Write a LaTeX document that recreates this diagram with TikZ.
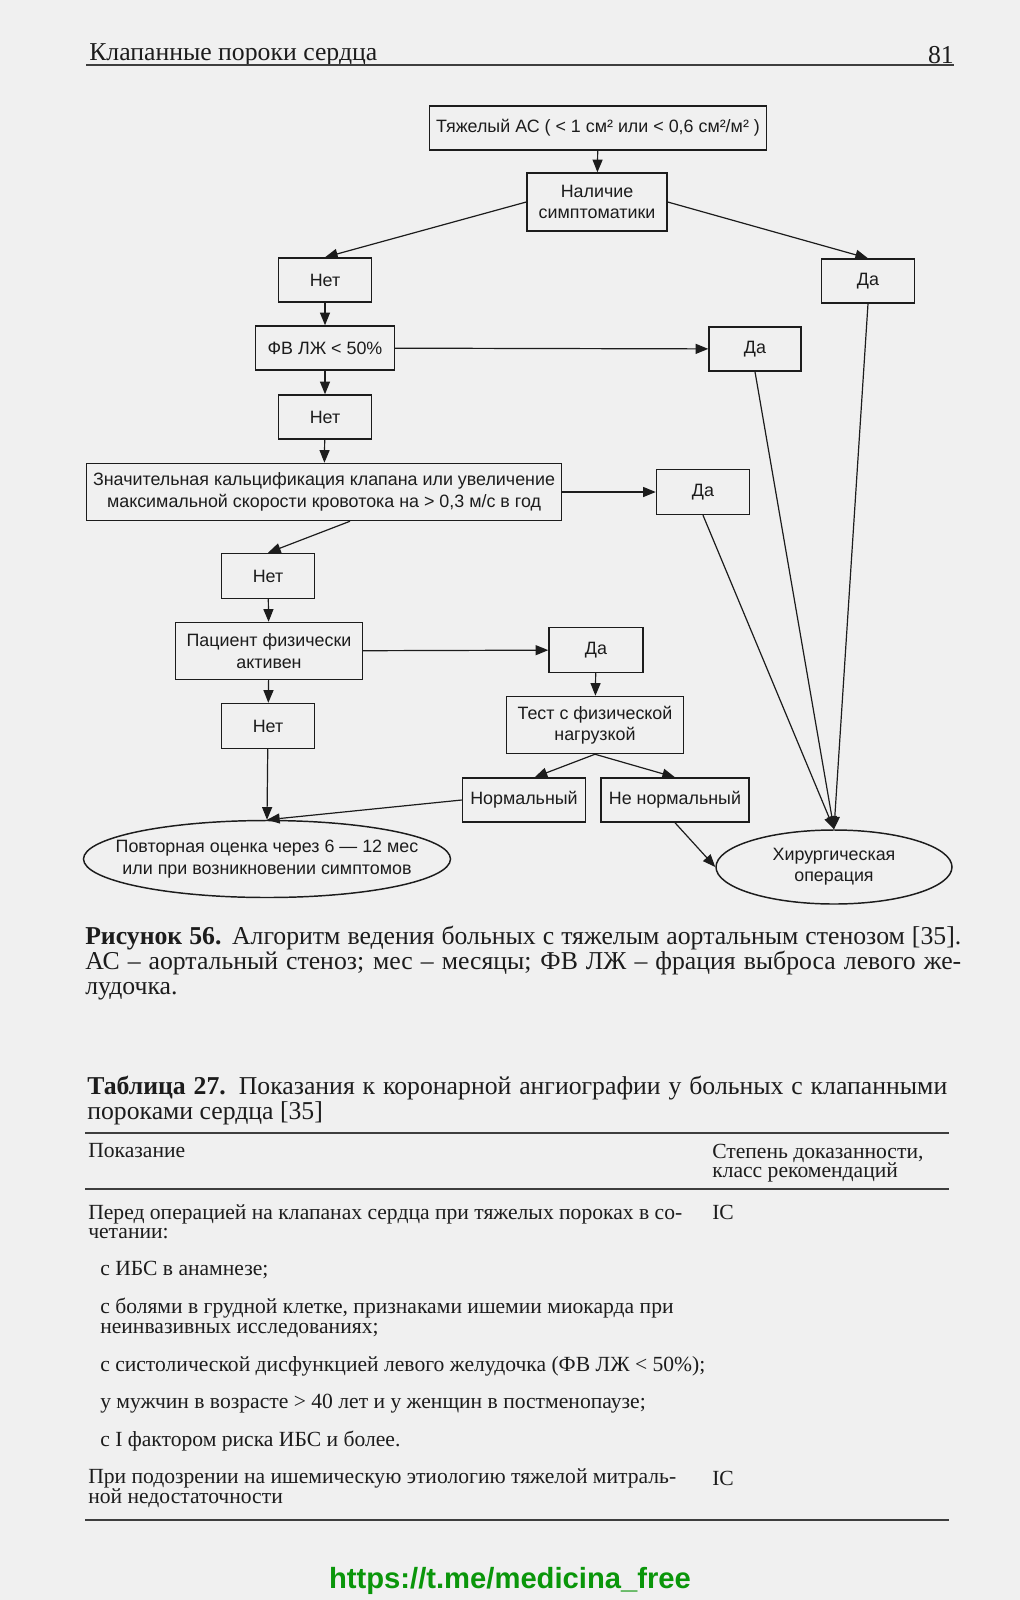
\documentclass[tikz,border=0pt]{standalone}
\usepackage{fontspec}
\setmainfont{Liberation Serif}
\setsansfont{Liberation Sans}
\usetikzlibrary{positioning,calc,shapes.geometric,arrows.meta}
\definecolor{paper}{RGB}{240,240,240}
\definecolor{ink}{RGB}{28,28,28}
\definecolor{linkgreen}{RGB}{10,150,10}
\lineskiplimit=-10pt
\tikzset{
  sz/.style 2 args={minimum width=#1*0.75pt, minimum height=#2*0.75pt},
  box/.style={draw=ink, line width=1.1pt, text=ink, align=center, inner sep=0pt,
    font=\sffamily\fontsize{13.4}{16}\selectfont},
  oval/.style={box, ellipse, inner xsep=-60pt, inner ysep=-12pt},
  arr/.style={draw=ink, line width=0.9pt, -{Triangle[length=9.5pt,width=7.5pt]}},
  rulez/.style={draw=ink!85, line width=0.9pt},
  serifbig/.style={text=ink, inner sep=0pt, font=\rmfamily\fontsize{19.3}{18.75}\selectfont},
  tabtext/.style={anchor=west, align=left, text=ink, inner sep=0pt,
    font=\rmfamily\fontsize{16.2}{14.6}\selectfont},
}
\begin{document}
\begin{tikzpicture}[x=0.75pt,y=-0.75pt]
\fill[paper] (0,0) rectangle (1020,1600);
\useasboundingbox (0,0) rectangle (1020,1600);
%% Running head
\node[serifbig, anchor=west] (head) at (89,55) {Клапанные пороки сердца};
\node[serifbig, anchor=east] (page) at (954,55) {81};
\draw[rulez] (86,65) -- (954,65);
%% Flowchart boxes
\node[box, sz={337}{44}] (severe) at (598,128) {Тяжелый АС ( < 1 см² или < 0,6 см²/м² )};
\node[box, sz={140}{58}] (symp) at (597,202) {Наличие\\симптоматики};
\node[box, sz={93}{44}] (no1) at (325,280) {Нет};
\node[box, sz={93}{44}] (yes1) at (868,281) {Да};
\node[box, sz={139}{44}] (ef) at (325,348) {ФВ ЛЖ < 50\%};
\node[box, sz={92}{44}] (yes2) at (755,349) {Да};
\node[box, sz={93}{44}] (no2) at (325,417) {Нет};
\node[box, sz={475}{57}] (calcif) at (324,492) {Значительная кальцификация клапана или увеличение\\максимальной скорости кровотока на > 0,3 м/с в год};
\node[box, sz={93}{45}] (yes3) at (703,492) {Да};
\node[box, sz={93}{45}] (no3) at (268,576) {Нет};
\node[box, sz={187}{57}] (active) at (269,651) {Пациент физически\\активен};
\node[box, sz={94}{45}] (yes4) at (596,650) {Да};
\node[box, sz={93}{45}] (no4) at (268,726) {Нет};
\node[box, sz={177}{57}] (stress) at (595,725) {Тест с физической\\нагрузкой};
\node[box, sz={123}{44}] (normal) at (524,800) {Нормальный};
\node[box, sz={148}{44}] (abnormal) at (675,800) {Не нормальный};
\node[oval, sz={367}{77}] (recheck) at (267,859) {Повторная оценка через 6 — 12 мес\\или при возникновении симптомов};
\node[oval, sz={236}{74}] (surgery) at (834,867) {Хирургическая\\операция};
%% Connectors
\foreach \a/\b in {severe/symp, no1/ef, ef/no2, no2/calcif, no3/active, active/no4,
                   yes4/stress, ef/yes2, calcif/yes3, active/yes4}
  \draw[arr] (\a) -- (\b);
\draw[arr] (symp.west) -- (no1.north);
\draw[arr] (symp.east) -- (yes1.north);
\draw[arr] ([xshift=19.5pt]calcif.south) -- (no3.north);
\draw[arr] (stress.south) -- ([xshift=8pt]normal.north);
\draw[arr] (stress.south) -- (abnormal.north);
\draw[arr] (no4) -- (recheck.north);
\draw[arr] (normal.west) -- (recheck.north);
\draw[arr] (abnormal.south) -- (surgery.west);
\foreach \y in {yes1,yes2,yes3}
  \draw[arr] (\y.south) -- (surgery.north);
%% Caption
\node[serifbig, anchor=north west, align=left] (caption) at (85,926) {%
  \makebox[657pt][s]{\textbf{Рисунок 56.} Алгоритм ведения больных с тяжелым аортальным стенозом [35].}\\
  \makebox[657pt][s]{АС -- аортальный стеноз; мес -- месяцы; ФВ ЛЖ -- фрация выброса левого же-}\\
  лудочка.};
%% Table 27
\node[serifbig, anchor=north west, align=left] (tabtitle) at (87,1076) {%
  \makebox[645pt][s]{\textbf{Таблица 27.} Показания к коронарной ангиографии у больных с клапанными}\\
  пороками сердца [35]};
\draw[rulez] (85,1133) -- (949,1133);
\node[tabtext] (hleft) at (88,1151) {Показание};
\node[tabtext] (hright) at (712,1163) {Степень доказанности,\\класс рекомендаций};
\draw[rulez] (85,1189) -- (949,1189);
\node[tabtext] (row1) at (88,1221.5) {Перед операцией на клапанах сердца при тяжелых пороках в со-\\четании:};
\node[tabtext] (row1c) at (712,1212) {IC};
\node[tabtext] (item1) at (100,1270) {с ИБС в анамнезе;};
\node[tabtext] (item2) at (100,1318) {с болями в грудной клетке, признаками ишемии миокарда при\\неинвазивных исследованиях;};
\node[tabtext] (item3) at (100,1366) {с систолической дисфункцией левого желудочка (ФВ ЛЖ < 50\%);};
\node[tabtext] (item4) at (100,1404) {у мужчин в возрасте > 40 лет и у женщин в постменопаузе;};
\node[tabtext] (item5) at (100,1441) {с I фактором риска ИБС и более.};
\node[tabtext] (row2) at (88,1488) {При подозрении на ишемическую этиологию тяжелой митраль-\\ной недостаточности};
\node[tabtext] (row2c) at (712,1478) {IC};
\draw[rulez] (85,1520) -- (949,1520);
%% Link
\node[text=linkgreen, font=\sffamily\bfseries\fontsize{21.9}{24}\selectfont] (link) at (510,1581) {https://t.me/medicina\_free};
\end{tikzpicture}
\end{document}
